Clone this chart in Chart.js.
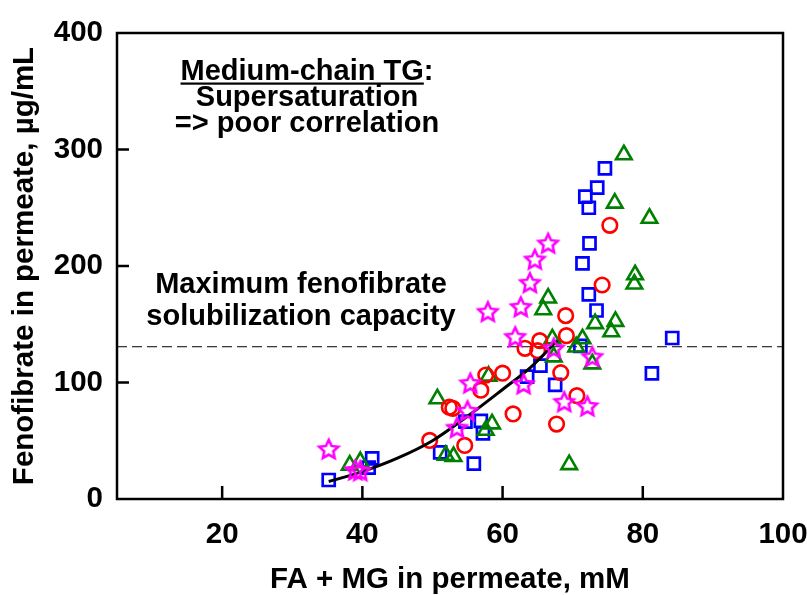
<!DOCTYPE html>
<html>
<head>
<meta charset="utf-8">
<script src="https://cdn.jsdelivr.net/npm/chart.js@4/dist/chart.umd.min.js"></script>
<style>
html,body{margin:0;padding:0;background:#fff;}
canvas{display:block;}
</style>
</head>
<body>
<canvas id="c" width="807" height="595"></canvas>
<script>
// ---- data ----
const xTicks = [20, 40, 60, 80, 100];
const yTicks = [0, 100, 200, 300, 400];

const squares = [[35.2,16.3],[40.9,26.9],[41.4,34.9],[51.1,40],[55.9,30.3],[54.7,66.4],[56.9,67],[57.2,56.4],
  [63.5,105],[65.4,114.5],[67.5,97.9],[71.1,131.5],[72.3,175.7],[73.4,161.8],[71.4,202.3],[72.4,219.5],
  [72.3,250],[71.8,259.5],[73.5,267.2],[74.6,283.8],[81.3,107.9],[84.2,138.2]];

const triangles = [[38.2,29],[39.7,32],[50.7,86],[51.9,37.5],[53,36.5],[57.6,59],[58.5,64.5],[58,105.5],
  [65.8,162.5],[66.5,172.5],[67.1,137.5],[67.3,122],[69.5,29.5],[70.5,130.5],[71.4,137.5],[72.8,116],
  [73.2,150.5],[75.5,143.5],[76.1,152.5],[76,254],[77.3,295.5],[78.8,184.5],[78.9,192.5],[80.95,241]];

const circles = [[49.6,50.3],[52.4,78.8],[52.9,77.8],[54.6,46],[56.9,93.4],[57.6,106.4],[60,108],[61.5,73],
  [63.2,129.3],[65,127.3],[65.3,135.9],[67.7,64.3],[68.3,108.4],[69,157.4],[69.1,140.2],[70.6,88.7],
  [74.2,183.7],[75.3,234.9]];

const stars = [[35.2,42.9],[39,24.9],[39.7,24.3],[53.5,61.3],[55,75.7],[55.4,99.5],[57.9,160.8],[61.8,139.3],
  [62.6,165],[63,98.8],[63.9,185.7],[64.6,205.7],[66.5,219.5],[67.3,129.5],[68.8,83.5],[72.1,79.8],[72.8,122.2]];

const fitCurve = [[35.2,15],[40,23.5],[45,35],[50,50],[55,71],[60,94],[64,113],[67.8,136]];

const capacityLevel = 130.7;
const capacityRange = [5, 100];

const noteTop = ["Medium-chain TG", ":", "Supersaturation", "=> poor correlation"];
const noteMid = ["Maximum fenofibrate", "solubilization capacity"];
const xTitle = "FA + MG in permeate, mM";
const yTitle = "Fenofibrate in permeate, \u00b5g/mL";

// ---- drawing ----
const FONT = "'Liberation Sans', Arial, Helvetica, sans-serif";
const toPts = a => a.map(p => ({x: p[0], y: p[1]}));

function makeStar(){
  const c = document.createElement('canvas');
  c.width = 26; c.height = 26;
  const g = c.getContext('2d');
  const R = 10, r = 4.8, cx = 13, cy = 13.8;
  g.beginPath();
  for (let i = 0; i < 10; i++) {
    const rad = -Math.PI/2 + i*Math.PI/5;
    const rr = i % 2 ? r : R;
    const px = cx + rr*Math.cos(rad), py = cy + rr*Math.sin(rad);
    i ? g.lineTo(px, py) : g.moveTo(px, py);
  }
  g.closePath();
  g.strokeStyle = '#FF00FF';
  g.lineWidth = 2.6;
  g.lineJoin = 'miter';
  g.stroke();
  return c;
}
const starImg = makeStar();

const framePlugin = {
  id: 'frame',
  afterDatasetsDraw(chart){
    const {ctx, chartArea: a, scales: {x, y}} = chart;
    ctx.save();
    ctx.strokeStyle = '#000';
    ctx.lineWidth = 2.5;
    ctx.strokeRect(a.left, a.top, a.right - a.left, a.bottom - a.top);
    ctx.beginPath();
    xTicks.forEach(v => { const px = x.getPixelForValue(v); if (px < a.right - 2) { ctx.moveTo(px, a.bottom); ctx.lineTo(px, a.bottom - 13); } });
    yTicks.forEach(v => { const py = y.getPixelForValue(v); if (py > a.top + 2 && py < a.bottom - 2) { ctx.moveTo(a.left, py); ctx.lineTo(a.left + 12, py); } });
    ctx.stroke();

    // annotations
    ctx.fillStyle = '#000';
    ctx.font = 'bold 29px ' + FONT;
    ctx.textBaseline = 'alphabetic';
    const cx = 307;
    const w1 = ctx.measureText(noteTop[0]).width;
    const w2 = ctx.measureText(noteTop[1]).width;
    const start = cx - (w1 + w2)/2;
    ctx.textAlign = 'left';
    ctx.fillText(noteTop[0], start, 80);
    ctx.fillText(noteTop[1], start + w1, 80);
    ctx.fillRect(start, 82.5, w1, 2.2);
    ctx.textAlign = 'center';
    ctx.fillText(noteTop[2], cx, 106);
    ctx.fillText(noteTop[3], cx, 132);
    ctx.fillText(noteMid[0], 301, 293);
    ctx.fillText(noteMid[1], 301, 324.5);
    ctx.restore();
  }
};

new Chart(document.getElementById('c'), {
  type: 'scatter',
  data: {
    datasets: [
      { label: 'stars', data: toPts(stars), pointStyle: starImg, order: 0 },
      { label: 'fit', data: toPts(fitCurve), showLine: true, borderColor: '#000', borderWidth: 3,
        pointRadius: 0, cubicInterpolationMode: 'monotone', order: 1 },
      { label: 'circles', data: toPts(circles), pointStyle: 'circle', pointRadius: 7.3,
        borderColor: '#FF0000', backgroundColor: 'rgba(0,0,0,0)', pointBorderWidth: 2.6, order: 2 },
      { label: 'triangles', data: toPts(triangles), pointStyle: 'triangle', pointRadius: 9,
        borderColor: '#008000', backgroundColor: 'rgba(0,0,0,0)', pointBorderWidth: 2.6, order: 3 },
      { label: 'squares', data: toPts(squares), pointStyle: 'rect', pointRadius: 8.5,
        borderColor: '#0000FF', backgroundColor: 'rgba(0,0,0,0)', pointBorderWidth: 2.7, order: 4 },
      { label: 'capacity', data: capacityRange.map(v => ({x: v, y: capacityLevel})), showLine: true,
        borderColor: '#000', borderWidth: 1, borderDash: [10, 5], pointRadius: 0, order: 5 }
    ]
  },
  options: {
    responsive: false,
    animation: false,
    devicePixelRatio: 1,
    layout: { padding: { top: 33, right: 24, left: 0, bottom: 0 } },
    plugins: { legend: { display: false }, tooltip: { enabled: false } },
    scales: {
      x: {
        type: 'linear', min: 5, max: 100,
        afterBuildTicks: s => { s.ticks = xTicks.map(v => ({value: v})); },
        afterFit: s => { s.height = 96; s.paddingLeft = 0; s.paddingRight = 0; },
        grid: { display: false, drawTicks: false },
        border: { display: false },
        ticks: { color: '#000', padding: 18, maxRotation: 0, font: { family: FONT, size: 29.5, weight: 'bold' } },
        title: { display: true, text: xTitle, color: '#000', padding: 0,
          font: { family: FONT, size: 29.5, weight: 'bold', lineHeight: 1 } }
      },
      y: {
        type: 'linear', min: 0, max: 400,
        afterBuildTicks: s => { s.ticks = yTicks.map(v => ({value: v})); },
        afterFit: s => { s.width = 117; s.paddingTop = 0; s.paddingBottom = 0; },
        grid: { display: false, drawTicks: false },
        border: { display: false },
        ticks: { color: '#000', padding: 14, font: { family: FONT, size: 29.5, weight: 'bold' } },
        title: { display: true, text: yTitle, color: '#000', padding: { top: 10, bottom: 0 },
          font: { family: FONT, size: 29.5, weight: 'bold', lineHeight: 1 } }
      }
    }
  },
  plugins: [framePlugin]
});
</script>
</body>
</html>
